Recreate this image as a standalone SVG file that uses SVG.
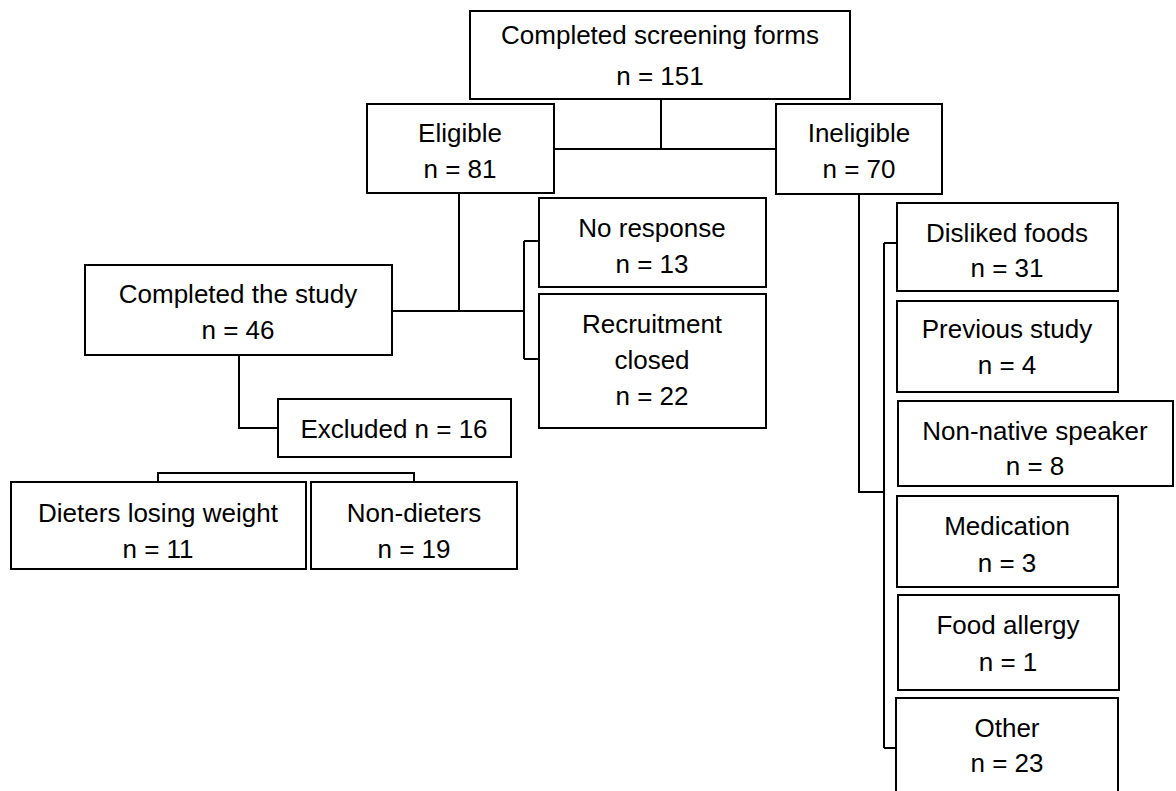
<svg xmlns="http://www.w3.org/2000/svg" width="1176" height="791" viewBox="0 0 1176 791">
<style>
.box{fill:#fff;stroke:#000;stroke-width:2}
.t{font-family:"Liberation Sans",Arial,sans-serif;font-size:26px;fill:#000;text-anchor:middle}
.c{fill:none;stroke:#000;stroke-width:2}
</style>
<rect width="1176" height="791" fill="#fff"/>
<g id="connectors">
<path class="c" d="M661 99V149M554 149H776"/>
<path class="c" d="M459 193V311M392 311H524M524 241V359M524 241H539M524 359H539"/>
<path class="c" d="M239 355V428H278"/>
<path class="c" d="M158 482V473H414V482"/>
<path class="c" d="M859 194V492H884M884 243V748M884 243H897M884 748H896"/>
</g>
<g id="n-screening"><rect class="box" x="470" y="11" width="380" height="88"/><text class="t" x="660" y="44">Completed screening forms</text><text class="t" x="660" y="85">n = 151</text></g>
<g id="n-eligible"><rect class="box" x="367" y="104" width="187" height="89"/><text class="t" x="460" y="142">Eligible</text><text class="t" x="460" y="178">n = 81</text></g>
<g id="n-ineligible"><rect class="box" x="776" y="104" width="166" height="90"/><text class="t" x="859" y="142">Ineligible</text><text class="t" x="859" y="178">n = 70</text></g>
<g id="n-noresponse"><rect class="box" x="539" y="198" width="227" height="89"/><text class="t" x="652" y="237">No response</text><text class="t" x="652" y="273">n = 13</text></g>
<g id="n-recruitment"><rect class="box" x="539" y="294" width="227" height="134"/><text class="t" x="652" y="333">Recruitment</text><text class="t" x="652" y="369">closed</text><text class="t" x="652" y="405">n = 22</text></g>
<g id="n-completed"><rect class="box" x="85" y="265" width="307" height="90"/><text class="t" x="238" y="303">Completed the study</text><text class="t" x="238" y="339">n = 46</text></g>
<g id="n-excluded"><rect class="box" x="278" y="399" width="233" height="58"/><text class="t" x="394" y="438">Excluded n = 16</text></g>
<g id="n-dieters"><rect class="box" x="11" y="482" width="295" height="87"/><text class="t" x="158" y="522">Dieters losing weight</text><text class="t" x="158" y="558">n = 11</text></g>
<g id="n-nondieters"><rect class="box" x="311" y="482" width="206" height="87"/><text class="t" x="414" y="522">Non-dieters</text><text class="t" x="414" y="558">n = 19</text></g>
<g id="n-disliked"><rect class="box" x="897" y="203" width="221" height="88"/><text class="t" x="1007" y="242">Disliked foods</text><text class="t" x="1007" y="277">n = 31</text></g>
<g id="n-previous"><rect class="box" x="897" y="301" width="221" height="91"/><text class="t" x="1007" y="338">Previous study</text><text class="t" x="1007" y="374">n = 4</text></g>
<g id="n-nonnative"><rect class="box" x="898" y="401" width="275" height="85"/><text class="t" x="1035" y="440">Non-native speaker</text><text class="t" x="1035" y="475">n = 8</text></g>
<g id="n-medication"><rect class="box" x="897" y="496" width="221" height="91"/><text class="t" x="1007" y="535">Medication</text><text class="t" x="1007" y="572">n = 3</text></g>
<g id="n-allergy"><rect class="box" x="898" y="595" width="221" height="95"/><text class="t" x="1008" y="634">Food allergy</text><text class="t" x="1008" y="671">n = 1</text></g>
<g id="n-other"><rect class="box" x="896" y="698" width="222" height="120"/><text class="t" x="1007" y="737">Other</text><text class="t" x="1007" y="772">n = 23</text></g>
</svg>
